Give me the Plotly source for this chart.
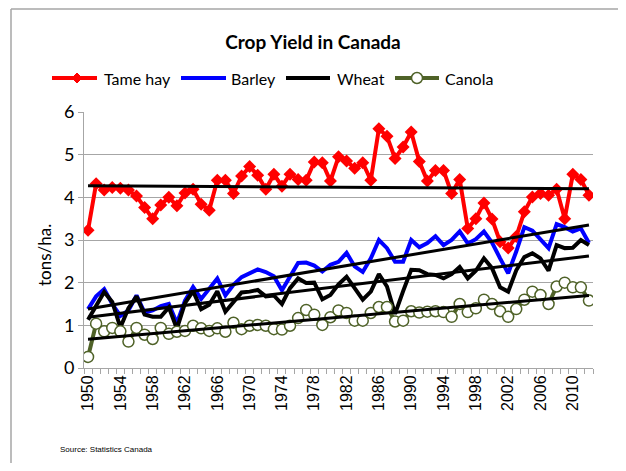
import numpy as np
import plotly.graph_objects as go

years = list(range(1950, 2013))

tame_hay = [3.23, 4.32, 4.17, 4.23, 4.21, 4.17, 4.03, 3.76, 3.50, 3.82,
            4.00, 3.80, 4.10, 4.19, 3.84, 3.70, 4.40, 4.40, 4.09, 4.50,
            4.72, 4.52, 4.19, 4.54, 4.26, 4.54, 4.42, 4.40, 4.83, 4.81,
            4.38, 4.95, 4.85, 4.68, 4.81, 4.40, 5.61, 5.43, 4.91, 5.18,
            5.53, 4.84, 4.38, 4.63, 4.63, 4.09, 4.42, 3.27, 3.50, 3.87,
            3.49, 2.96, 2.81, 3.08, 3.66, 4.01, 4.09, 4.05, 4.19, 3.50,
            4.54, 4.42, 4.05]

barley = [1.38, 1.68, 1.85, 1.50, 1.22, 1.35, 1.70, 1.30, 1.35, 1.45,
          1.50, 1.05, 1.58, 1.90, 1.62, 1.85, 2.10, 1.70, 1.95, 2.13,
          2.22, 2.31, 2.25, 2.15, 1.82, 2.15, 2.46, 2.47, 2.40, 2.26,
          2.42, 2.49, 2.70, 2.38, 2.25, 2.57, 3.00, 2.81, 2.49, 2.49,
          3.00, 2.83, 2.93, 3.09, 2.88, 3.00, 3.20, 2.92, 3.02, 3.20,
          2.94, 2.57, 2.22, 2.73, 3.30, 3.22, 3.00, 2.81, 3.37, 3.30,
          3.20, 3.27, 2.93]

wheat = [1.13, 1.45, 1.78, 1.55, 0.95, 1.40, 1.68, 1.25, 1.20, 1.20,
         1.42, 0.92, 1.52, 1.80, 1.38, 1.48, 1.80, 1.32, 1.55, 1.77,
         1.79, 1.83, 1.68, 1.70, 1.50, 1.87, 2.10, 1.99, 2.00, 1.61,
         1.71, 1.96, 2.14, 1.87, 1.60, 1.79, 2.20, 1.91, 1.27, 1.80,
         2.30, 2.29, 2.20, 2.18, 2.10, 2.20, 2.37, 2.10, 2.28, 2.57,
         2.34, 1.89, 1.79, 2.29, 2.60, 2.69, 2.57, 2.28, 2.88, 2.81,
         2.82, 3.00, 2.88]

canola = [0.26, 1.04, 0.86, 0.94, 0.86, 0.62, 0.94, 0.78, 0.68, 0.94,
          0.80, 0.85, 0.87, 0.99, 0.93, 0.87, 0.93, 0.85, 1.06, 0.91,
          0.99, 1.01, 0.99, 0.91, 0.90, 0.99, 1.17, 1.36, 1.25, 1.01,
          1.19, 1.35, 1.29, 1.11, 1.11, 1.29, 1.43, 1.43, 1.09, 1.11,
          1.33, 1.30, 1.32, 1.33, 1.31, 1.20, 1.50, 1.31, 1.40, 1.60,
          1.50, 1.33, 1.20, 1.38, 1.60, 1.79, 1.71, 1.50, 1.91, 2.00,
          1.89, 1.89, 1.58]

x_tick_labels = [str(y) for y in range(1950, 2013, 4)]
series_names = ["Tame hay", "Barley", "Wheat", "Canola"]
series_colors = ["#ff0000", "#0000ff", "#000000", "#4f6228"]

FONT = "Lato"
OFF = 8  # page body margin
W, H = 626 - 2 * OFF, 471 - 2 * OFF
L, T = 84 - OFF, 112 - OFF
PW, PH = 509, 256
R, B = W - L - PW, H - T - PH


def px_x(px):  # px given in reference-image coordinates
    return (px - OFF - L) / PW


def px_y(py):
    return (T + PH - (py - OFF)) / PH


fig = go.Figure()

fig.add_trace(go.Scatter(x=years, y=tame_hay, name=series_names[0], mode="lines+markers",
                         line=dict(color=series_colors[0], width=4),
                         marker=dict(symbol="diamond", size=10, color=series_colors[0])))
fig.add_trace(go.Scatter(x=years, y=barley, name=series_names[1], mode="lines",
                         line=dict(color=series_colors[1], width=4)))
fig.add_trace(go.Scatter(x=years, y=wheat, name=series_names[2], mode="lines",
                         line=dict(color=series_colors[2], width=4)))
fig.add_trace(go.Scatter(x=years, y=canola, name=series_names[3], mode="lines+markers",
                         line=dict(color=series_colors[3], width=4),
                         marker=dict(symbol="circle", size=11, color="white",
                                     line=dict(color=series_colors[3], width=1.5))))

# linear trendlines
yrs = np.array(years, dtype=float)
for series in [tame_hay, barley, wheat, canola]:
    m, b = np.polyfit(yrs, np.array(series), 1)
    fig.add_trace(go.Scatter(x=[yrs[0], yrs[-1]], y=[m * yrs[0] + b, m * yrs[-1] + b],
                             mode="lines", line=dict(color="black", width=3),
                             showlegend=False, hoverinfo="skip"))

fig.update_layout(
    width=W, height=H,
    margin=dict(l=L, r=R, t=T, b=B),
    paper_bgcolor="white", plot_bgcolor="white",
    showlegend=False,
    title=dict(text="<b>Crop Yield in Canada</b>", x=0.5 + (313 - OFF - W / 2) / W, xanchor="center",
               y=1 - (42 - OFF) / H, yanchor="middle",
               font=dict(family=FONT, size=19, color="black")),
    xaxis=dict(range=[1949.5, 2012.5], tickmode="array", automargin=False,
               tickvals=[int(t) for t in x_tick_labels], ticktext=x_tick_labels,
               tickangle=-90, ticks="", showgrid=False, zeroline=False,
               showline=True, linecolor="#a6a6a6", linewidth=1,
               tickfont=dict(family="Liberation Sans", size=16, color="black"),
               minor=dict(ticks="outside", tick0=1949.5, dtick=1, ticklen=5,
                          tickcolor="#a6a6a6", showgrid=False)),
    yaxis=dict(range=[0, 6], dtick=1, tick0=0, showgrid=True, gridcolor="#a6a6a6",
               gridwidth=1, zeroline=False, showline=True, linecolor="#a6a6a6",
               automargin=False, ticks="outside", ticklen=5, tickcolor="#a6a6a6",
               tickfont=dict(family=FONT, size=18, color="black")),
)

# y-axis title
fig.add_annotation(text="tons/ha.", xref="paper", yref="paper", x=px_x(44), y=px_y(255),
                   textangle=-90, showarrow=False, xanchor="center", yanchor="middle",
                   font=dict(family=FONT, size=17, color="black"))

# manual legend (line sample 45 px, label after)
legend_items = [(52, 97, 102), (181, 226, 229), (286, 330, 335), (395, 439, 443)]
ly = px_y(78)
for i, (x0, x1, tx) in enumerate(legend_items):
    fig.add_shape(type="line", xref="paper", yref="paper", x0=px_x(x0), x1=px_x(x1), y0=ly, y1=ly,
                  line=dict(color=series_colors[i], width=4))
    fig.add_annotation(text=series_names[i], xref="paper", yref="paper", x=px_x(tx), y=ly,
                       xanchor="left", yanchor="middle", showarrow=False,
                       font=dict(family=FONT, size=16, color="black"))
# legend markers
fig.add_shape(type="path", xref="paper", yref="paper",
              path="M {0},{1} L {2},{3} L {4},{1} L {2},{5} Z".format(
                  px_x(72), ly, px_x(77), px_y(73), px_x(82), px_y(83)),
              fillcolor=series_colors[0], line=dict(color=series_colors[0], width=1))
fig.add_shape(type="circle", xref="paper", yref="paper",
              x0=px_x(411.5), x1=px_x(422.5), y0=px_y(72.5), y1=px_y(83.5),
              fillcolor="white", line=dict(color=series_colors[3], width=1.5))

# chart-area border (left and top edges visible)
fig.add_shape(type="line", xref="paper", yref="paper",
              x0=px_x(11), x1=px_x(11), y0=px_y(9), y1=px_y(480),
              line=dict(color="#a6a6a6", width=1.5))
fig.add_shape(type="line", xref="paper", yref="paper",
              x0=px_x(11), x1=px_x(640), y0=px_y(9), y1=px_y(9),
              line=dict(color="#a6a6a6", width=1.5))

fig.add_annotation(text="Source: Statistics Canada", xref="paper", yref="paper",
                   x=px_x(58), y=px_y(449), xanchor="left", yanchor="middle",
                   showarrow=False, font=dict(family="Liberation Sans", size=8, color="black"))

fig.write_html("out.html")
